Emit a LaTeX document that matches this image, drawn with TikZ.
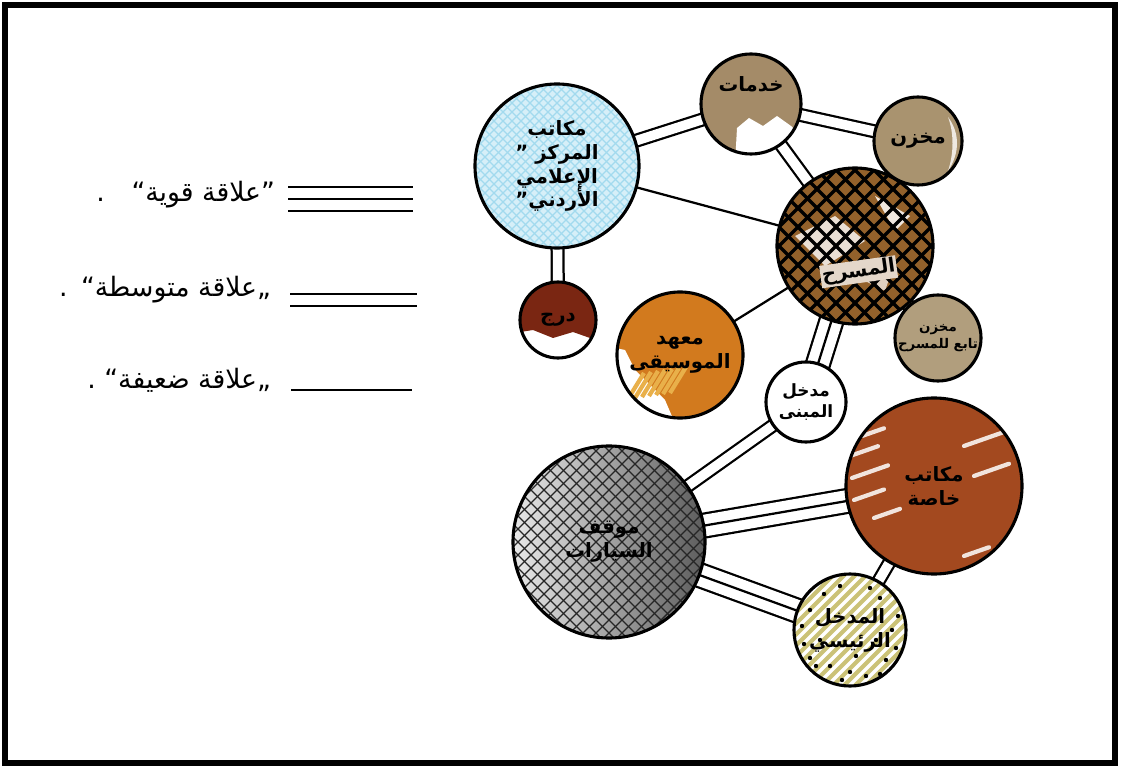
\documentclass[tikz,border=0pt]{standalone}
\usepackage{fontspec}
\newfontfamily\arabicfont[Script=Arabic]{DejaVu Sans}
\TeXXeTstate=1
\usetikzlibrary{backgrounds}
\newcommand{\ar}[1]{{\arabicfont\beginR #1\endR}}
% cross hatching in the current scope: spacing, colour, width
\newcommand{\xhatch}[3]{%
  \foreach \k in {-20,...,20} {
    \draw[#2, line width=#3] ({\k*#1-150},-150) -- ++(300,300);
    \draw[#2, line width=#3] ({\k*#1-150},150) -- ++(300,-300);
  }}
\definecolor{mediablue}{HTML}{D6EFF8}
\definecolor{mediahatch}{HTML}{A2DAEE}
\definecolor{servbrown}{HTML}{A48B68}
\definecolor{storebrown}{HTML}{A9936F}
\definecolor{stagebrown}{HTML}{93612B}
\definecolor{stairred}{HTML}{7A2612}
\definecolor{musicorange}{HTML}{D27A1E}
\definecolor{musicyellow}{HTML}{E9B04A}
\definecolor{officebrown}{HTML}{A3491F}
\definecolor{entryolive}{HTML}{CBC277}

\begin{document}
\begin{tikzpicture}[x=0.025cm, y=-0.025cm,
  bubble/.style={circle, draw=black, line width=2.2pt, inner sep=0pt, align=center,
    font=\fontsize{14}{17}\selectfont\bfseries},
  weak/.style={line width=1.6pt},
  medium/.style={double, double distance=0.24cm, line width=1.6pt},
  strong/.style={double, double distance=0.54cm, line width=1.6pt},
  legendtext/.style={anchor=east, font=\fontsize{19}{21}\selectfont}]
\useasboundingbox (0,0) rectangle (1121,768);
\draw[line width=0.13cm] (5,5) rectangle (1115,763);

% --- legend ---
\node[legendtext] (lstrong) at (280,195) {\ar{”علاقة قوية“\quad .}};
\node[legendtext] (lmedium) at (276,290) {\ar{„علاقة متوسطة“\enspace .}};
\node[legendtext] (lweak)   at (276,380) {\ar{„علاقة ضعيفة“ .}};
\coordinate (s1) at (288,199); \coordinate (s2) at (413,199);
\coordinate (m1) at (290,300); \coordinate (m2) at (417,300);
\coordinate (w1) at (291,390); \coordinate (w2) at (412,390);
\draw[strong] (s1) -- (s2); \draw[weak] (s1) -- (s2);
\draw[medium] (m1) -- (m2);
\draw[weak] (w1) -- (w2);

% --- bubbles ---
\node[bubble, minimum size=4.1cm] (media) at (557,166)
  {\ar{مكاتب}\\\ar{المركز ”}\\\ar{الإعلامي}\\\ar{الأردني”}};
\node[bubble, minimum size=2.5cm,
  label={[font=\fontsize{14}{17}\selectfont\bfseries, yshift=0.5cm]center:\ar{خدمات}}] (serv) at (751,104) {};
\node[bubble, minimum size=2.2cm] (store) at (918,141) {\ar{مخزن}};
\node[bubble, minimum size=3.9cm,
  label={[font=\fontsize{14}{17}\selectfont\bfseries, fill=white!75!stagebrown, inner sep=1pt, rotate=8, yshift=-0.65cm]center:\ar{المسرح}}] (stage) at (855,246) {};
\node[bubble, minimum size=2.15cm, font=\fontsize{9.5}{12}\selectfont\bfseries] (stagestore) at (938,338)
  {\ar{مخزن}\\\ar{تابع للمسرح}};
\node[bubble, minimum size=1.9cm] (stairs) at (558,320) {\ar{درج}};
\node[bubble, minimum size=3.15cm] (music) at (680,355) {\ar{معهد}\\\ar{الموسيقى}};
\node[bubble, minimum size=2.0cm, font=\fontsize{12}{15}\selectfont\bfseries] (bldgentry) at (806,402) {\ar{مدخل}\\\ar{المبنى}};
\node[bubble, minimum size=4.4cm] (offices) at (934,486) {\ar{مكاتب}\\\ar{خاصة}};
\node[bubble, minimum size=4.8cm] (parking) at (609,542) {\ar{موقف}\\\ar{السيارات}};
\node[bubble, minimum size=2.8cm] (mainentry) at (850,630) {\ar{المدخل}\\\ar{الرئيسي}};

\begin{pgfonlayer}{background}
% --- relations ---
\draw[medium] (media.center) -- (serv.center);
\draw[weak]   (media.center) -- (stage.center);
\draw[medium] (media.center) -- (stairs.center);
\draw[medium] (serv.center) -- (store.center);
\draw[medium] (serv.center) -- (stage.center);
\draw[medium] (stage.center) -- (stagestore.center);
\draw[weak]   (stage.center) -- (music.center);
\draw[strong] (stage.center) -- (bldgentry.center); \draw[weak] (stage.center) -- (bldgentry.center);
\draw[medium] (bldgentry.center) -- (parking.center);
\draw[strong] (parking.center) -- (offices.center); \draw[weak] (parking.center) -- (offices.center);
\draw[strong] (parking.center) -- (mainentry.center); \draw[weak] (parking.center) -- (mainentry.center);
\draw[medium] (offices.center) -- (mainentry.center);

% --- marker colouring ---
\begin{scope}[shift={(media.center)}]
  \clip (0,0) circle (81);
  \fill[mediablue] (-90,-90) rectangle (90,90);
  \xhatch{9}{mediahatch}{0.9pt}
\end{scope}
\begin{scope}[shift={(serv.center)}]
  \clip (0,0) circle (49);
  \fill[servbrown] (-60,-60) rectangle (60,60);
  \fill[white] (-16,60) -- (-14,24) -- (-2,14) -- (12,22) -- (26,12) -- (40,22) -- (60,40) -- (60,60) -- cycle;
\end{scope}
\begin{scope}[shift={(store.center)}]
  \clip (0,0) circle (43);
  \fill[storebrown] (-50,-50) rectangle (50,50);
  \fill[white!80!storebrown] (30,-24) .. controls (42,-8) and (42,12) .. (30,30) .. controls (36,12) and (36,-8) .. (30,-24);
\end{scope}
\begin{scope}[shift={(stage.center)}]
  \clip (0,0) circle (77);
  \fill[stagebrown] (-80,-80) rectangle (80,80);
  \fill[white!80!stagebrown] (-60,-10) -- (-20,-30) -- (10,-5) -- (-30,20) -- cycle;
  \fill[white!85!stagebrown] (20,-50) -- (55,-30) -- (40,-15) -- cycle;
  \fill[white!70!stagebrown] (0,30) -- (40,15) -- (30,45) -- cycle;
  \xhatch{19}{black}{2.4pt}
\end{scope}
\begin{scope}[shift={(stagestore.center)}]
  \clip (0,0) circle (42);
  \fill[storebrown!90!white] (-50,-50) rectangle (50,50);
\end{scope}
\begin{scope}[shift={(stairs.center)}]
  \clip (0,0) circle (37);
  \fill[white] (-40,-40) rectangle (40,40);
  \fill[stairred] (-50,-50) -- (50,-50) -- (50,12) -- (32,18) -- (15,12) -- (-5,18) -- (-25,10) -- (-50,14) -- cycle;
\end{scope}
\begin{scope}[shift={(music.center)}]
  \clip (0,0) circle (62);
  \fill[musicorange] (-70,-70) rectangle (70,70);
  \fill[white] (-80,-10) -- (-55,-5) -- (-45,15) -- (-30,30) -- (-15,45) -- (0,80) -- (-80,80) -- cycle;
  \foreach \k in {0,...,6} {
    \draw[musicyellow, line width=3pt] ({-52+\k*7},{44-\k}) -- ++(16,-26);
  }
\end{scope}
\begin{scope}[shift={(bldgentry.center)}]
  \fill[white] (0,0) circle (39);
\end{scope}
\begin{scope}[shift={(offices.center)}]
  \clip (0,0) circle (87);
  \fill[officebrown] (-90,-90) rectangle (90,90);
  \foreach \a/\b/\len in {-84/-30/28, -82/-8/36, -80/14/30, -72/-50/22, -60/32/26, 30/-40/40, 40/-10/35, 30/70/25} {
    \draw[white!85!officebrown, line width=3pt, line cap=round] (\a,\b) -- ++(\len,{-\len*0.35});
  }
\end{scope}
\begin{scope}[shift={(parking.center)}]
  \clip (0,0) circle (95);
  \shade[left color=gray!15, right color=gray!70!black] (-100,-100) rectangle (100,100);
  \xhatch{13}{black!85}{1pt}
\end{scope}
\begin{scope}[shift={(mainentry.center)}]
  \clip (0,0) circle (55);
  \fill[entryolive] (-60,-60) rectangle (60,60);
  \foreach \k in {-12,...,12} {
    \draw[white, line width=2.4pt] ({\k*11-80},80) -- ++(160,-160);
  }
  \foreach \p in {(-40,-20),(-30,10),(-46,14),(-20,36),(0,42),(16,46),(36,30),(42,0),(30,-32),(-10,-44),(20,-42),(-34,36),(6,26),(-26,-36),(46,18),(-48,-4),(26,10),(-8,50),(30,44),(-40,28),(48,-14)} {
    \fill[black] \p circle (2.2);
  }
\end{scope}
\end{pgfonlayer}
\end{tikzpicture}
\end{document}
